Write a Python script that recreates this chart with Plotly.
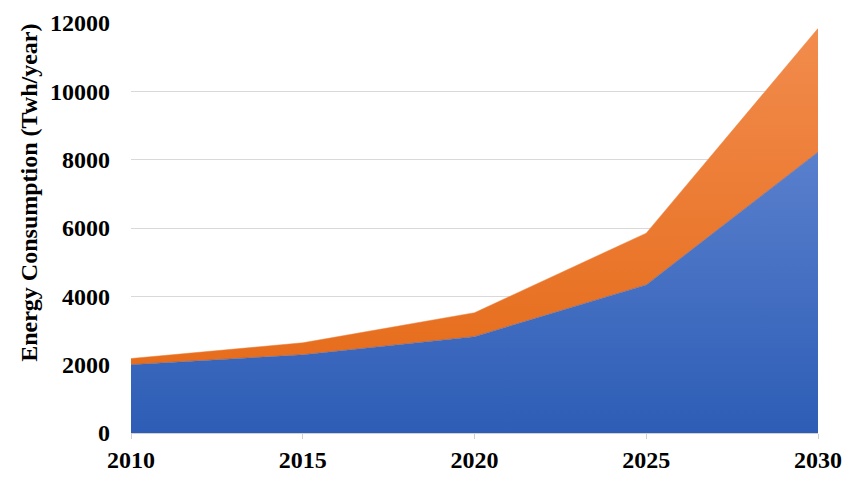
import plotly.graph_objects as go

years = [2010, 2015, 2020, 2025, 2030]
blue_vals = [2000, 2290, 2820, 4335, 8220]
orange_vals = [180, 350, 700, 1515, 3620]
y_ticks = [0, 2000, 4000, 6000, 8000, 10000, 12000]
y_title = "Energy Consumption (Twh/year)"

font_family = "Liberation Serif, Times New Roman, serif"

fig = go.Figure()
fig.add_trace(go.Scatter(
    x=years, y=blue_vals, stackgroup="one", mode="lines",
    line=dict(width=0.5, color="#3a66be"),
    fillgradient=dict(type="vertical", start=0, stop=8300,
                      colorscale=[[0, "#2d5db6"], [1, "#5a80cd"]]),
    hoverinfo="x+y", name="A"))
fig.add_trace(go.Scatter(
    x=years, y=orange_vals, stackgroup="one", mode="lines",
    line=dict(width=0.5, color="#ee7d35"),
    fillgradient=dict(type="vertical", start=2000, stop=12000,
                      colorscale=[[0, "#e66d1c"], [1, "#f28c4e"]]),
    hoverinfo="x+y", name="B"))

# page body has an 8px default margin; compensate
OFF = 8
L, R, T, B = 131 - OFF, 32, 23 - OFF, 44.5
W, H = 850 - OFF, 478 - OFF
fig.update_layout(
    width=W, height=H,
    margin=dict(l=L, r=R, t=T, b=B),
    paper_bgcolor="white", plot_bgcolor="white",
    showlegend=False,
    font=dict(family=font_family, color="black"),
)
fig.update_xaxes(
    range=[2010, 2030], tickvals=years, ticktext=[str(y) for y in years],
    showgrid=False, showline=True, linecolor="#d0d0d0", linewidth=1,
    ticks="outside", ticklen=5, tickcolor="#d0d0d0",
    tickfont=dict(size=24, family=font_family, weight="bold"),
    zeroline=False, automargin=False,
)
fig.update_yaxes(
    range=[0, 12000], tickvals=y_ticks, ticktext=[str(v) for v in y_ticks],
    showgrid=True, gridcolor="#d9d9d9", gridwidth=1,
    showline=False, zeroline=False, ticks="",
    ticklabelstandoff=20, automargin=False,
    tickfont=dict(size=24, family=font_family, weight="bold"),
)
plot_w = W - L - R
plot_h = H - T - B
fig.add_annotation(
    text=y_title, textangle=-90, showarrow=False,
    xref="paper", yref="paper",
    x=-(131 - 29) / plot_w, y=(478 - B - 193) / plot_h,
    xanchor="center", yanchor="middle",
    font=dict(size=24, family=font_family, weight="bold", color="black"),
)
fig.write_html("out.html")
